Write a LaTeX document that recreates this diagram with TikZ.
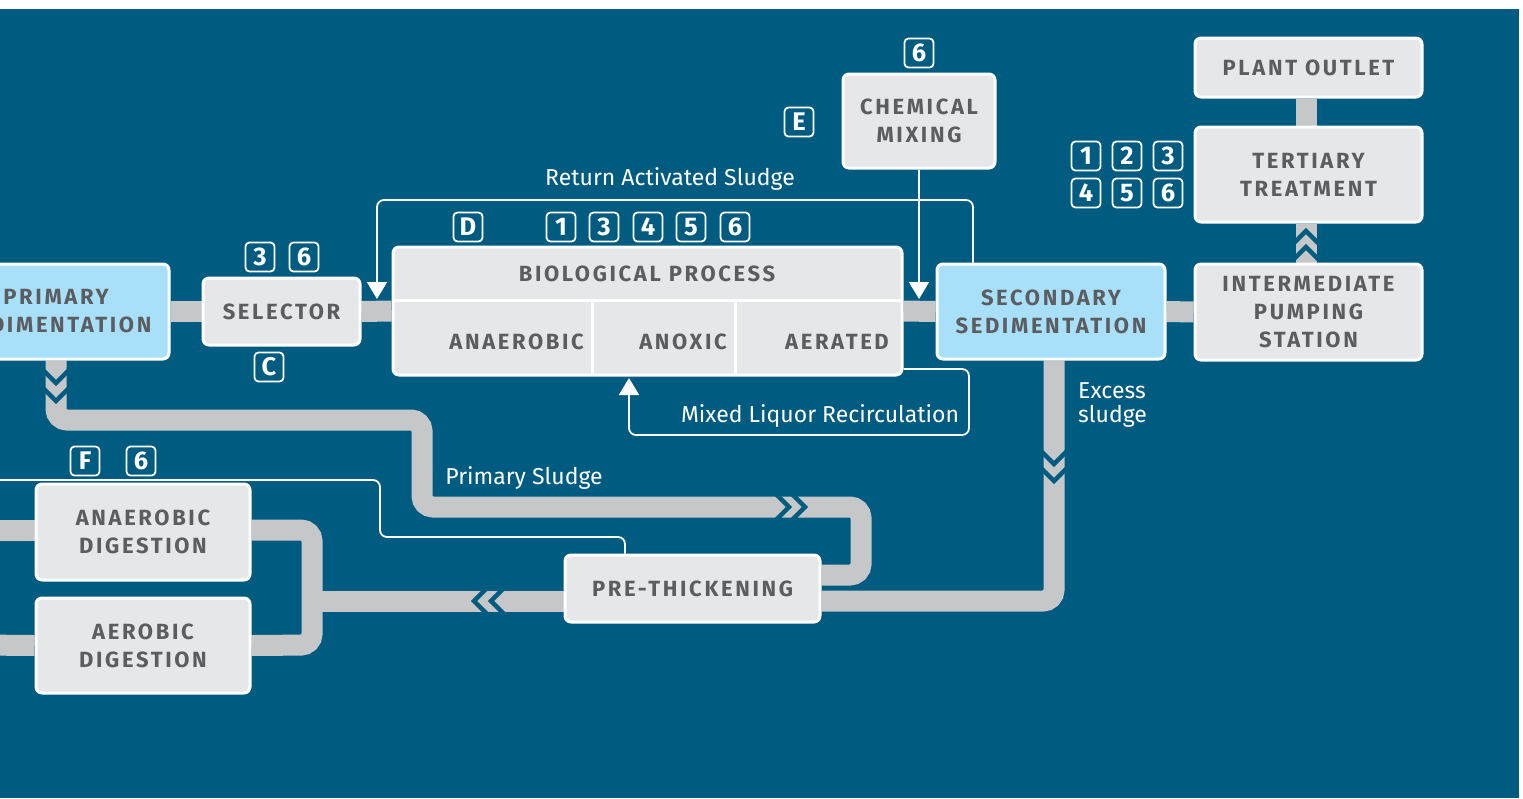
\documentclass[tikz,border=0pt]{standalone}
\usepackage{fontspec}
\setmainfont{Fira Sans}
\newfontfamily\labfont[LetterSpace=12]{Fira Sans}
\usetikzlibrary{arrows.meta}
\definecolor{bgblue}{HTML}{005B80}
\definecolor{boxgrey}{HTML}{E6E7E9}
\definecolor{lblue}{HTML}{A9E0F9}
\definecolor{pipegrey}{HTML}{C6C7C9}
\definecolor{txtgrey}{HTML}{5C5D60}
\pgfdeclarelayer{bg}
\pgfdeclarelayer{pipes}
\pgfsetlayers{bg,pipes,main}
\tikzset{
  unit/.style={rectangle, rounded corners=6pt, draw=white, line width=3pt, fill=boxgrey,
    text=txtgrey, font=\labfont\bfseries\fontsize{22}{28}\selectfont, align=center, inner sep=0pt},
  bunit/.style={unit, fill=lblue},
  lab/.style={text=txtgrey, font=\labfont\bfseries\fontsize{22}{28}\selectfont, inner sep=0pt},
  tag/.style={rectangle, draw=white, line width=1.8pt, rounded corners=4pt, minimum width=29pt,
    minimum height=29pt, inner sep=0pt, text=white, font=\bfseries\fontsize{25.5}{25}\selectfont},
  wlab/.style={text=white, font=\fontsize{23}{24}\selectfont, inner sep=0pt, align=left},
  pipe/.style={draw=pipegrey, line width=21pt, rounded corners=11pt},
  chev/.style={draw=bgblue, line width=4.5pt, miter limit=10},
  flow/.style={draw=white, line width=1.8pt, rounded corners=7pt},
  tip/.style={-{Triangle[width=20pt,length=17pt]}}
}
\begin{document}
\begin{tikzpicture}[x=1pt,y=-1pt]
\useasboundingbox (0,0) rectangle (1523,798);
\begin{pgfonlayer}{bg}
  \fill[white] (0,0) rectangle (1523,798);
  \fill[bgblue] (0,9) rectangle (1519,798);
\end{pgfonlayer}

% units
\node[bunit, minimum width=226pt, minimum height=95pt] (prim) at (56,311.5) {PRIMARY\\SEDIMENTATION};
\node[unit, minimum width=157pt, minimum height=67pt] (sel) at (281.5,311.5) {SELECTOR};
\node[unit, minimum width=509pt, minimum height=128pt] (bio) at (647.5,311) {};
\draw[white, line width=3pt] (393,300) -- (902,300);
\draw[white, line width=3pt] (592,300) -- (592,375);
\draw[white, line width=3pt] (735,300) -- (735,375);
\node[lab] (biohead) at (647,274) {BIOLOGICAL PROCESS};
\node[lab, anchor=east] (bioana) at (584,342) {ANAEROBIC};
\node[lab, anchor=east] (bioanox) at (727,342) {ANOXIC};
\node[lab, anchor=east] (bioaer) at (889,342) {AERATED};
\node[unit, minimum width=152pt, minimum height=94pt] (chem) at (919,121) {CHEMICAL\\MIXING};
\node[bunit, minimum width=228pt, minimum height=95pt] (sec) at (1051,311.5) {SECONDARY\\SEDIMENTATION};
\node[unit, minimum width=227pt, minimum height=96pt] (ips) at (1308.5,312) {INTERMEDIATE\\PUMPING\\STATION};
\node[unit, minimum width=227pt, minimum height=95pt] (tert) at (1308.5,174.5) {TERTIARY\\TREATMENT};
\node[unit, minimum width=227pt, minimum height=59pt] (outlet) at (1308.5,67.5) {PLANT OUTLET};
\node[unit, minimum width=255pt, minimum height=67pt] (pre) at (692.5,588.5) {PRE-THICKENING};
\node[unit, minimum width=214pt, minimum height=96pt] (anad) at (143,532) {ANAEROBIC\\DIGESTION};
\node[unit, minimum width=214pt, minimum height=95pt] (aerd) at (143,645.5) {AEROBIC\\DIGESTION};

% tags
\node[tag] (tsel3) at (260,257) {3};
\node[tag] (tsel6) at (304,257) {6};
\node[tag] (tselC) at (269,367) {C};
\node[tag] (tbioD) at (468,227) {D};
\node[tag] (tbio1) at (561,227) {1};
\node[tag] (tbio3) at (604,227) {3};
\node[tag] (tbio4) at (648,227) {4};
\node[tag] (tbio5) at (691,227) {5};
\node[tag] (tbio6) at (735,227) {6};
\node[tag] (tchem6) at (919,53) {6};
\node[tag] (tchemE) at (799,122) {E};
\node[tag] (tt1) at (1086,156) {1};
\node[tag] (tt2) at (1127,156) {2};
\node[tag] (tt3) at (1168,156) {3};
\node[tag] (tt4) at (1086,193) {4};
\node[tag] (tt5) at (1127,193) {5};
\node[tag] (tt6) at (1168,193) {6};
\node[tag] (tdF) at (85,461) {F};
\node[tag] (td6) at (141,461) {6};

% white labels
\node[wlab] (lras) at (670,179) {Return Activated Sludge};
\node[wlab] (lmlr) at (820,416) {Mixed Liquor Recirculation};
\node[wlab] (lps) at (524,478) {Primary Sludge};
\node[wlab, anchor=west] (lex) at (1078,405) {Excess\\sludge};

% pipes
\begin{pgfonlayer}{pipes}
  \draw[pipe] (prim.east) -- (sel.west);
  \draw[pipe] (sel.east) -- (bio.west);
  \draw[pipe] (bio.east) -- (sec.west);
  \draw[pipe] (sec.east) -- (ips.west);
  \draw[pipe] ([xshift=-2.5pt]ips.north) -- ([xshift=-2.5pt]tert.south);
  \draw[pipe] ([xshift=-2.5pt]tert.north) -- ([xshift=-2.5pt]outlet.south);
  \draw[pipe] (prim.south) -- (56,420) -- (422,420) -- (422,507) -- (861,507) -- (861,575) -- ([yshift=13.5pt]pre.east);
  \draw[pipe] ([xshift=3pt]sec.south) -- (1054,601) -- ([yshift=-12.5pt]pre.east);
  \draw[pipe] ([yshift=-12.5pt]pre.west) -- (312,601);
  \draw[pipe] ([yshift=2pt]anad.east) -- (312,530) -- (312,645) -- (aerd.east);
  \draw[pipe] (-20,530) -- ([yshift=2pt]anad.west);
  \draw[pipe] (-20,645) -- (aerd.west);
  % chevrons
  \draw[chev] (42,369) -- (56,383) -- (70,369);
  \draw[chev] (42,387) -- (56,401) -- (70,387);
  \draw[chev] (1040,450) -- (1054,464) -- (1068,450);
  \draw[chev] (1040,467) -- (1054,481) -- (1068,467);
  \draw[chev] (1292,245) -- (1306,231) -- (1320,245);
  \draw[chev] (1292,261) -- (1306,247) -- (1320,261);
  \draw[chev] (775,493) -- (789,507) -- (775,521);
  \draw[chev] (791,493) -- (805,507) -- (791,521);
  \draw[chev] (488,587) -- (474,601) -- (488,615);
  \draw[chev] (505,587) -- (491,601) -- (505,615);
\end{pgfonlayer}

% thin flows
\draw[flow, tip] ([xshift=-78pt]sec.north) -- (973,200) -- (377,200) -- (377,299);
\draw[flow, tip] (chem.south) -- (919,299);
\draw[flow, tip] ([yshift=-58pt]bio.east) -- (969,369) -- (969,435) -- (629,435) -- (629,378);
\draw[flow] (-10,480) -- (380,480) -- (380,537) -- (625,537) -- ([xshift=-67.5pt]pre.north);
\end{tikzpicture}
\end{document}
